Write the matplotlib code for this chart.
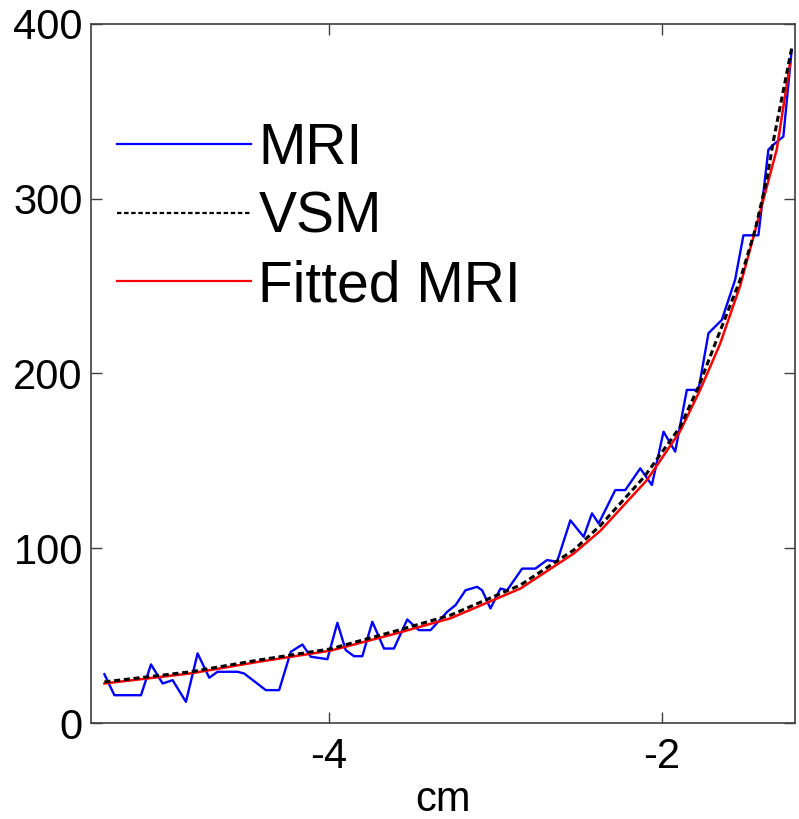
import matplotlib.pyplot as plt

plt.rcParams["font.family"] = ["Liberation Sans", "DejaVu Sans"]
plt.rcParams["axes.unicode_minus"] = False

# MRI measured profile (blue)
mri_x = [-5.35, -5.29, -5.13, -5.07, -5.00, -4.94, -4.86, -4.79, -4.72, -4.67,
         -4.55, -4.51, -4.38, -4.30, -4.23, -4.16, -4.11, -4.01, -3.95, -3.90,
         -3.85, -3.80, -3.74, -3.67, -3.61, -3.53, -3.46, -3.39, -3.29, -3.24,
         -3.18, -3.11, -3.08, -3.03, -2.97, -2.93, -2.84, -2.76, -2.69, -2.63,
         -2.55, -2.47, -2.42, -2.38, -2.28, -2.22, -2.13, -2.06, -1.99, -1.92,
         -1.85, -1.78, -1.72, -1.64, -1.56, -1.51, -1.42, -1.36, -1.33, -1.27,
         -1.22]
mri_y = [28, 16, 16, 33.6, 22.7, 24.6, 12.2, 39.9, 26, 29.4,
         29.4, 28.4, 18.9, 18.9, 40.8, 45, 38, 36.6, 57.4, 41.8,
         38.3, 38.3, 58, 42.7, 42.7, 59.3, 53.2, 53.2, 63.7, 67.5,
         76, 78, 76, 65.6, 77, 76, 88.4, 88.4, 93.3, 92.3,
         116, 106.6, 120, 114.2, 133.3, 133.3, 145.7, 136.2, 166.7, 155.3,
         190.6, 190.6, 223, 230.6, 253.5, 279, 279, 328, 330.8, 335.5,
         385]

# VSM reference (black dashed)
vsm_x = [-5.35, -4.83, -4.43, -3.99, -3.59, -3.27, -2.85, -2.53, -2.37, -2.105,
         -1.89, -1.78, -1.68, -1.53, -1.44, -1.37, -1.33, -1.22]
vsm_y = [23.6, 29.4, 36, 42.5, 53, 61.8, 79, 99, 113, 141,
         169.5, 192.4, 217, 253.5, 282, 310.7, 333, 386]

# fitted MRI (red)
fit_x = [-5.35, -4.83, -4.43, -3.99, -3.59, -3.27, -2.85, -2.53, -2.37, -2.09,
         -1.89, -1.77, -1.65, -1.53, -1.45, -1.31, -1.23]
fit_y = [22.7, 28.5, 35, 41.5, 51.5, 60, 77, 97, 110, 139,
         167, 190.6, 217, 250, 278, 328, 377]

fig = plt.figure(figsize=(7.99, 8.19), dpi=100)
ax = fig.add_axes([0.114, 0.117, 0.881, 0.854])

ax.plot(mri_x, mri_y, color="#0000ff", lw=1.7, label="MRI", zorder=2)
ax.plot(vsm_x, vsm_y, color="black", lw=2.2, ls=(0, (2, 1.2)), label="VSM", zorder=4)
ax.plot(fit_x, fit_y, color="#ff0000", lw=1.8, label="Fitted MRI", zorder=3)

ax.set_xlim(-5.43, -1.2)
ax.set_ylim(0, 400)
ax.set_xticks([-4, -2])
ax.set_yticks([0, 100, 200, 300, 400])
ax.tick_params(direction="in", length=8, width=1, color="#404040",
               labelsize=30, top=True, right=True)
ax.tick_params(axis="x", pad=10)
ax.tick_params(axis="y", pad=6)
for s in ax.spines.values():
    s.set_color("#404040")
    s.set_linewidth(1.2)

ax.set_xlabel("cm", fontsize=30, labelpad=2)

leg = ax.legend(loc="upper left", bbox_to_anchor=(0.037, 0.86), frameon=False,
                fontsize=41, handlelength=2.35, handletextpad=0.13,
                labelspacing=0.26, borderpad=0, borderaxespad=0)
for ln in leg.get_lines():
    ln.set_linewidth(1.6)

fig.savefig("out.png", dpi=100)
